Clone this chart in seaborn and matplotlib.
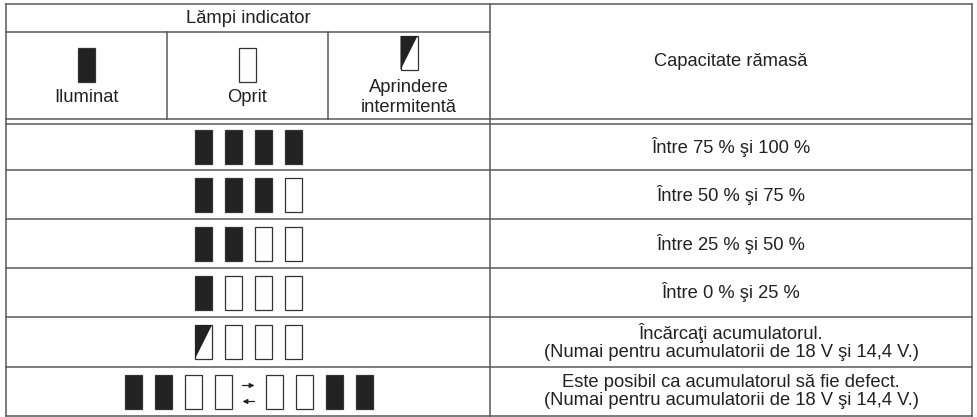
import seaborn as sns
import matplotlib.pyplot as plt
from matplotlib.patches import Rectangle, Polygon

# lamp states: 1 = lit, 0 = off, 2 = flashing
header_title = 'Lămpi indicator'
header_right = 'Capacitate rămasă'
header_labels = ['Iluminat', 'Oprit', 'Aprindere\nintermitentă']
header_states = [1, 0, 2]

row_states = [
    [1, 1, 1, 1],
    [1, 1, 1, 0],
    [1, 1, 0, 0],
    [1, 0, 0, 0],
    [2, 0, 0, 0],
]
defect_left = [1, 1, 0, 0]
defect_right = [0, 0, 1, 1]

capacity_labels = [
    'Între 75 % şi 100 %',
    'Între 50 % şi 75 %',
    'Între 25 % şi 50 %',
    'Între 0 % şi 25 %',
    'Încărcaţi acumulatorul.\n(Numai pentru acumulatorii de 18 V şi 14,4 V.)',
    'Este posibil ca acumulatorul să fie defect.\n(Numai pentru acumulatorii de 18 V şi 14,4 V.)',
]

# layout (pixels)
W, H = 977, 417
x_left, x_mid, x_right = 6, 490, 972
col_edges = [6, 167, 328, 490]
y_top, y_bottom = 4, 416
y_title = 32
y_head1 = 119
row_edges = [124, 170, 219, 268, 317, 367, 416]
lamp_w, lamp_h, lamp_gap = 17, 34, 30

line_col = '#585858'
ink = '#222222'
fs = 13.2

sns.set_theme(style='white')
plt.rcParams['font.family'] = ['Liberation Sans', 'DejaVu Sans']

fig = plt.figure(figsize=(W / 100, H / 100), dpi=100)
ax = fig.add_axes([0, 0, 1, 1])
ax.set_xlim(0, W)
ax.set_ylim(H, 0)
ax.axis('off')


def hline(y, x0, x1):
    ax.plot([x0, x1], [y, y], color=line_col, lw=1.1, solid_capstyle='projecting')


def vline(x, y0, y1):
    ax.plot([x, x], [y0, y1], color=line_col, lw=1.1, solid_capstyle='projecting')


def lamp(cx, cy, state):
    x0, y0 = cx - lamp_w / 2, cy - lamp_h / 2
    face = ink if state == 1 else 'white'
    ax.add_patch(Rectangle((x0, y0), lamp_w, lamp_h, facecolor=face,
                           edgecolor='#333333', lw=0.9, zorder=3))
    if state == 2:
        ax.add_patch(Polygon([(x0, y0), (x0 + lamp_w, y0), (x0, y0 + lamp_h)],
                             closed=True, facecolor=ink, edgecolor='none', zorder=4))


def arrow(x0, x1, y):
    ax.annotate('', xy=(x1, y), xytext=(x0, y),
                arrowprops=dict(arrowstyle='-|>', lw=0.9, color=ink,
                                mutation_scale=7, shrinkA=0, shrinkB=0))


# frame
hline(y_top, x_left, x_right)
hline(y_bottom, x_left, x_right)
vline(x_left, y_top, y_bottom)
vline(x_right, y_top, y_bottom)
vline(x_mid, y_top, y_bottom)
hline(y_title, x_left, x_mid)
for x in col_edges[1:3]:
    vline(x, y_title, y_head1)
hline(y_head1, x_left, x_right)
for y in row_edges[:-1]:
    hline(y, x_left, x_right)

# header
ax.text((x_left + x_mid) / 2, 18, header_title, ha='center', va='center',
        fontsize=fs, color=ink)
ax.text((x_mid + x_right) / 2, 61, header_right, ha='center', va='center',
        fontsize=fs, color=ink)
for i, (lab, st) in enumerate(zip(header_labels, header_states)):
    cx = (col_edges[i] + col_edges[i + 1]) / 2
    if st == 2:
        lamp(cx, 53, st)
        ax.text(cx, 97.5, lab, ha='center', va='center', fontsize=fs,
                color=ink, linespacing=1.3)
    else:
        lamp(cx, 64.5, st)
        ax.text(cx, 97, lab, ha='center', va='center', fontsize=fs, color=ink)

# body rows
x_c = (x_left + x_mid) / 2 + 0.5
for r, states in enumerate(row_states):
    cy = (row_edges[r] + row_edges[r + 1]) / 2
    n = len(states)
    for k, st in enumerate(states):
        lamp(x_c + (k - (n - 1) / 2) * lamp_gap, cy, st)

# defect row: two groups with swap arrows
r = len(row_states)
cy = (row_edges[r] + row_edges[r + 1]) / 2
for k, st in enumerate(defect_left):
    lamp(x_c - 115.5 + k * lamp_gap, cy, st)
for k, st in enumerate(defect_right):
    lamp(x_c + 25.5 + k * lamp_gap, cy, st)
arrow(x_c - 6, x_c + 6, cy - 6)
arrow(x_c + 6, x_c - 6, cy + 10)

# capacity text
for r, lab in enumerate(capacity_labels):
    cy = (row_edges[r] + row_edges[r + 1]) / 2
    ax.text((x_mid + x_right) / 2, cy, lab, ha='center', va='center',
            fontsize=fs, color=ink, linespacing=1.12)

fig.savefig('out.png', dpi=100, facecolor='white')
